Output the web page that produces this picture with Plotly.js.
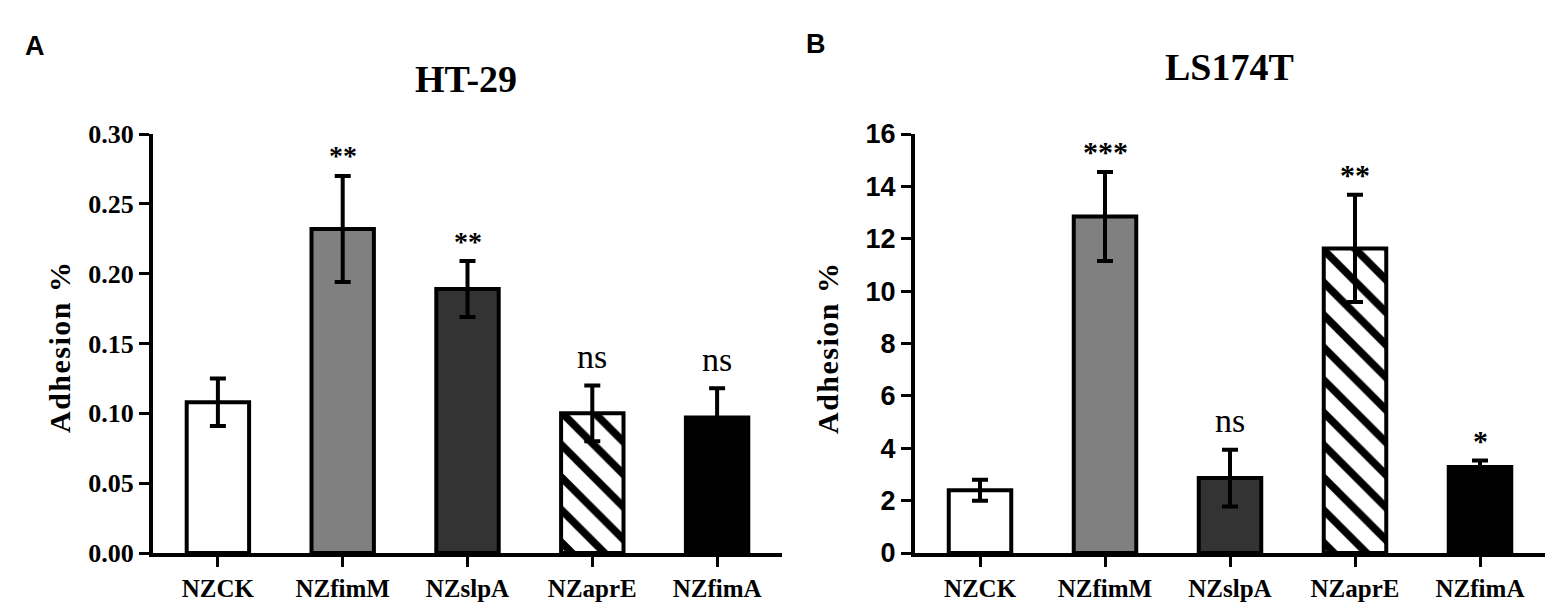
<!DOCTYPE html>
<html>
<head>
<meta charset="utf-8">
<script src="https://cdn.plot.ly/plotly-3.0.1.min.js"></script>
<style>
  html, body { margin: 0; padding: 0; background: #fff; }
  #chart { width: 1562px; height: 612px; }
</style>
</head>
<body>
<div id="chart"></div>
<script>
// Data
var categories = ['NZCK', 'NZfimM', 'NZslpA', 'NZaprE', 'NZfimA'];

// HT-29 panel
var ht29Mean = [0.108, 0.232, 0.189, 0.100, 0.097];
var ht29Err = [0.017, 0.038, 0.020, 0.020, 0.021];
var ht29Sig = ['', '**', '**', 'ns', 'ns'];
var ht29Ticks = [0, 0.05, 0.10, 0.15, 0.20, 0.25, 0.30];

// LS174T panel
var ls174tMean = [2.40, 12.85, 2.86, 11.63, 3.28];
var ls174tErr = [0.40, 1.70, 1.08, 2.05, 0.25];
var ls174tSig = ['', '***', 'ns', '**', '*'];
var ls174tTicks = [0, 2, 4, 6, 8, 10, 12, 14, 16];

// bar fills; for the hatched bar (NZaprE) the colour is the stripe colour,
// since plotly's 'replace' pattern mode uses the point colour for the lines
var barColors = ['#ffffff', '#808080', '#333333', '#000000', '#000000'];
var barPatterns = ['', '', '', '\\', ''];

var serif = 'Liberation Serif, Times New Roman, serif';
var sans = 'Liberation Sans, Arial, sans-serif';
var narrow = 'Liberation Sans Narrow, Liberation Sans, Arial, sans-serif';

// one bar trace per panel
function makeBars(means, errs, xa, ya) {
  return {
    type: 'bar',
    x: categories,
    y: means,
    xaxis: xa,
    yaxis: ya,
    width: 0.5,
    marker: {
      color: barColors,
      line: {color: '#000', width: 4},
      pattern: {shape: barPatterns, fillmode: 'replace', size: 23, solidity: 0.33}
    },
    error_y: {type: 'data', array: errs, visible: true, color: '#000', thickness: 4, width: 8},
    hoverinfo: 'skip',
    showlegend: false
  };
}

var traces = [
  makeBars(ht29Mean, ht29Err, 'x', 'y'),
  makeBars(ls174tMean, ls174tErr, 'x2', 'y2')
];

// significance marks sit just above the error bar caps
function sigNotes(means, errs, labels, xr, yr, starSize) {
  var out = [];
  labels.forEach(function (lab, i) {
    if (!lab) return;
    var isNs = lab === 'ns';
    out.push({
      x: categories[i], y: means[i] + errs[i], xref: xr, yref: yr,
      text: isNs ? lab : '<b>' + lab + '</b>',
      showarrow: false, xanchor: 'center', yanchor: 'middle',
      yshift: isNs ? 29 : 20,
      font: {family: serif, size: isNs ? 34 : starSize, color: '#000'}
    });
  });
  return out;
}

function xAxis(domain, anchor) {
  return {
    domain: domain, anchor: anchor, range: [-0.52, 4.52],
    showline: true, linewidth: 4, linecolor: '#000',
    ticks: 'outside', ticklen: 10, tickwidth: 3, tickcolor: '#000',
    tickfont: {family: serif, size: 25, weight: 'bold', color: '#000'},
    showgrid: false, zeroline: false, fixedrange: true
  };
}

function yAxis(domain, anchor, range, ticks, fmt, font) {
  return {
    domain: domain, anchor: anchor, range: range,
    tickvals: ticks, tickformat: fmt,
    showline: true, linewidth: 4, linecolor: '#000',
    ticks: 'outside', ticklen: 10, tickwidth: 3, tickcolor: '#000',
    tickfont: font,
    showgrid: false, zeroline: false, fixedrange: true
  };
}

var yTitle = '<span style="letter-spacing:1.5px"><b>Adhesion %</b></span>';

function paperText(px, py, text, font, angle) {
  return {
    x: px / 1562, y: 1 - py / 612, xref: 'paper', yref: 'paper',
    xanchor: 'center', yanchor: 'middle', text: text, textangle: angle || 0,
    showarrow: false, font: font
  };
}

var annotations = [
  paperText(35, 46, '<b>A</b>', {family: sans, size: 27, color: '#000'}),
  paperText(816, 44, '<b>B</b>', {family: sans, size: 27, color: '#000'}),
  paperText(466, 79, '<b>HT-29</b>', {family: serif, size: 38, color: '#000'}),
  paperText(1229, 67, '<b>LS174T</b>', {family: serif, size: 38, color: '#000'}),
  paperText(59, 347, yTitle, {family: serif, size: 30, color: '#000'}, -90),
  paperText(827, 348, yTitle, {family: serif, size: 30, color: '#000'}, -90)
].concat(
  sigNotes(ht29Mean, ht29Err, ht29Sig, 'x', 'y', 28),
  sigNotes(ls174tMean, ls174tErr, ls174tSig, 'x2', 'y2', 30)
);

var layout = {
  width: 1562,
  height: 612,
  margin: {l: 0, r: 0, t: 0, b: 0},
  paper_bgcolor: '#fff',
  plot_bgcolor: '#fff',
  showlegend: false,
  xaxis: xAxis([153 / 1562, 782 / 1562], 'y'),
  yaxis: yAxis([1 - 553 / 612, 1 - 134 / 612], 'x', [0, 0.30], ht29Ticks, '.2f',
               {family: serif, size: 26, weight: 'bold', color: '#000'}),
  xaxis2: xAxis([915 / 1562, 1545 / 1562], 'y2'),
  yaxis2: yAxis([1 - 553 / 612, 1 - 134 / 612], 'x2', [0, 16], ls174tTicks, 'd',
                {family: narrow, size: 27, weight: 'bold', color: '#000'}),
  annotations: annotations
};

Plotly.newPlot('chart', traces, layout, {displayModeBar: false});
</script>
</body>
</html>
